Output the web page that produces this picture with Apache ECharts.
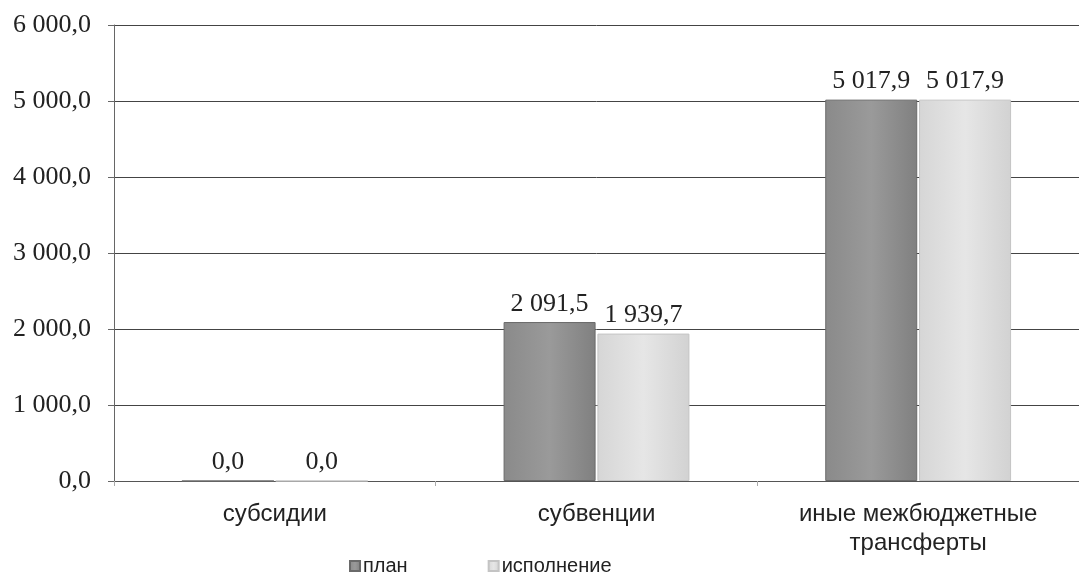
<!DOCTYPE html>
<html>
<head>
<meta charset="utf-8">
<script src="https://cdn.jsdelivr.net/npm/echarts@6/dist/echarts.min.js"></script>
<style>
html,body{margin:0;padding:0;background:#fff;}
#c{width:1079px;height:581px;}
</style>
</head>
<body>
<div id="c"></div>
<script>
const categories = ['субсидии', 'субвенции', 'иные межбюджетные\nтрансферты'];
const seriesNames = ['план', 'исполнение'];
const planValues = [0.0, 2091.5, 5017.9];
const execValues = [0.0, 1939.7, 5017.9];
const yTicks = [0, 1000, 2000, 3000, 4000, 5000, 6000];

function fmt(v, d) {
  const s = Math.abs(v).toFixed(d);
  const parts = s.split('.');
  const intPart = parts[0].replace(/\B(?=(\d{3})+(?!\d))/g, ' ');
  return (v < 0 ? '-' : '') + intPart + (parts[1] ? ',' + parts[1] : '');
}

const chart = echarts.init(document.getElementById('c'));
const serif = '"Liberation Serif", "DejaVu Serif", serif';
const sans = '"Liberation Sans", Arial, sans-serif';

chart.setOption({
  animation: false,
  backgroundColor: '#ffffff',
  grid: { left: 114, right: 0, top: 25, bottom: 100 },
  legend: {
    data: seriesNames,
    bottom: 0,
    left: 344,
    itemWidth: 10,
    itemHeight: 10,
    itemGap: 80,
    icon: 'rect',
    textStyle: { fontFamily: sans, fontSize: 20, color: '#222', padding: [0, 0, 0, -2] }
  },
  xAxis: {
    type: 'category',
    data: categories,
    axisLine: { lineStyle: { color: '#555', width: 1 } },
    axisTick: { show: true, length: 5, lineStyle: { color: '#aaa' } },
    axisLabel: { fontFamily: sans, fontSize: 24, color: '#222', margin: 19, lineHeight: 29 }
  },
  yAxis: {
    type: 'value',
    min: yTicks[0],
    max: yTicks[yTicks.length - 1],
    interval: 1000,
    axisLine: { show: true, lineStyle: { color: '#666' } },
    axisTick: { show: true, length: 6, lineStyle: { color: '#666' } },
    axisLabel: { fontFamily: serif, fontSize: 26, color: '#222', margin: 23,
      formatter: v => fmt(v, 1) },
    splitLine: { lineStyle: { color: '#444', width: 1 } }
  },
  series: [
    {
      name: seriesNames[0],
      type: 'bar',
      data: planValues,
      barWidth: 92,
      barGap: '2%',
      itemStyle: {
        color: new echarts.graphic.LinearGradient(0, 0, 1, 0, [
          { offset: 0, color: '#8a8a8a' },
          { offset: 0.5, color: '#9a9a9a' },
          { offset: 1, color: '#808080' }
        ]),
        borderColor: '#6a6a6a',
        borderWidth: 1
      },
      label: { show: true, position: 'top', distance: 5, fontFamily: serif, fontSize: 26, color: '#222',
        formatter: p => fmt(p.value, 1) }
    },
    {
      name: seriesNames[1],
      type: 'bar',
      data: execValues,
      barWidth: 92,
      itemStyle: {
        color: new echarts.graphic.LinearGradient(0, 0, 1, 0, [
          { offset: 0, color: '#d6d6d6' },
          { offset: 0.5, color: '#e6e6e6' },
          { offset: 1, color: '#d2d2d2' }
        ]),
        borderColor: '#c4c4c4',
        borderWidth: 1
      },
      label: { show: true, position: 'top', distance: 5, fontFamily: serif, fontSize: 26, color: '#222',
        formatter: p => fmt(p.value, 1) }
    }
  ]
});
</script>
</body>
</html>
